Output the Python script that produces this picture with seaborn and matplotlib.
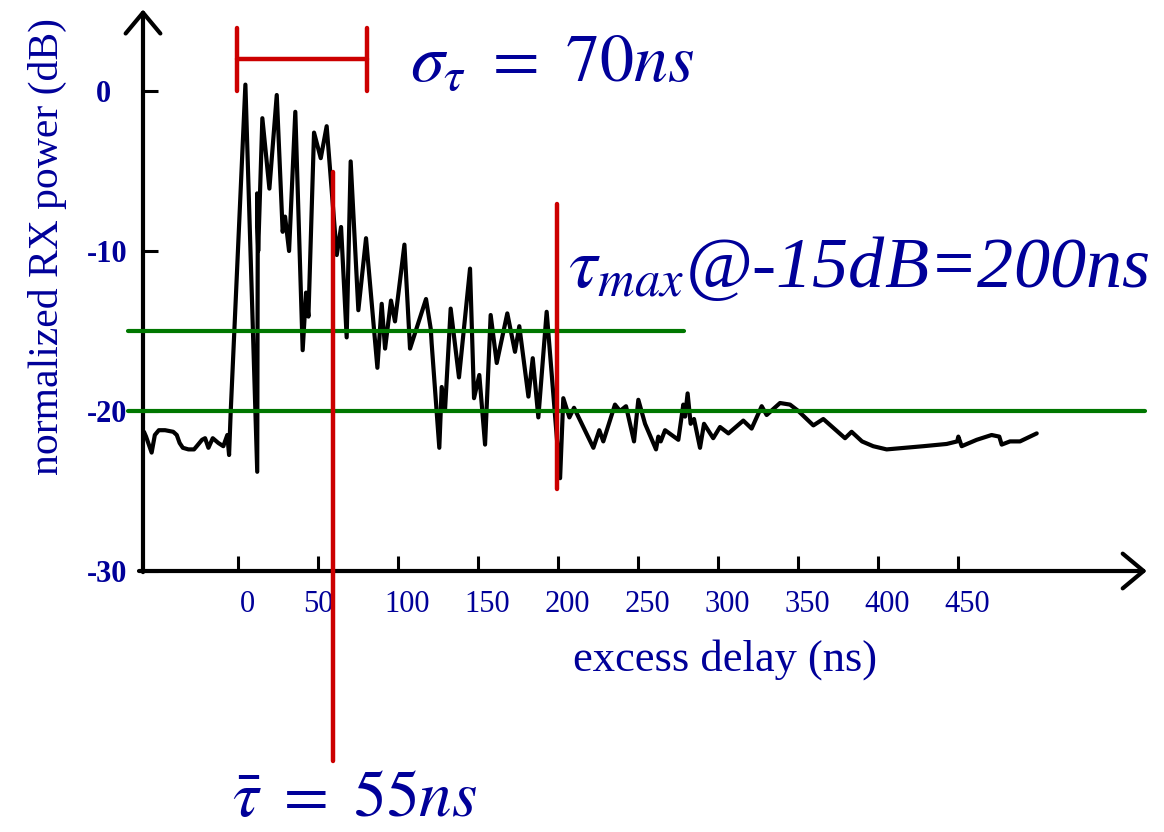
import matplotlib
matplotlib.use("Agg")
import matplotlib.pyplot as plt
import matplotlib.transforms as mtrans
import seaborn as sns

# power delay profile (ns, dB)
delay_ns = [
    -58.8, -57.5, -54.0, -52.0, -49.5, -45.6, -40.5, -38.3, -36.5, -34.5,
    -31.0, -27.5, -25.8, -22.5, -20.6, -18.5, -15.8, -12.3, -9.2, -6.7,
    -5.6, -4.6, 4.6, 12.0, 12.3, 11.9, 12.6, 15.2, 19.6, 24.2,
    27.9, 29.4, 31.9, 35.8, 40.4, 42.5, 44.0, 47.5, 51.7, 55.4,
    61.7, 64.4, 67.9, 70.4, 75.2, 80.0, 87.1, 89.8, 91.9, 95.6,
    98.1, 104.0, 107.5, 117.5, 120.5, 121.0, 125.8, 127.3, 129.4, 132.9,
    138.1, 145.0, 147.5, 150.8, 154.4, 157.9, 161.7, 168.3, 173.1, 175.8,
    181.5, 184.2, 187.7, 192.9, 201.3, 203.3, 207.1, 210.0, 222.1, 225.8,
    228.3, 235.6, 238.75, 242.5, 247.5, 250.2, 254.4, 261.25, 262.7, 264.2,
    266.9, 275.2, 278.3, 279.4, 281.0, 282.9, 285.0, 288.75, 291.25, 297.0,
    301.25, 306.5, 315.8, 321.0, 327.3, 330.4, 338.75, 345.0, 350.2, 359.6,
    365.8, 379.4, 383.5, 390.0, 397.0, 405.4, 428.3, 442.9, 449.5, 450.2,
    452.3, 461.7, 471.0, 475.8, 477.3, 482.5, 488.75, 499.2,
]
power_db = [
    -21.3, -21.6, -22.6, -21.5, -21.2, -21.2, -21.3, -21.5, -22.0, -22.3,
    -22.4, -22.4, -22.2, -21.8, -21.7, -22.3, -21.7, -22.0, -22.2, -21.5,
    -22.75, -20.1, 0.4, -23.8, -10.0, -6.4, -10.0, -1.7, -6.1, -0.25,
    -8.8, -7.85, -10.0, -1.3, -16.2, -12.6, -14.1, -2.6, -4.2, -2.2,
    -10.25, -8.5, -15.4, -4.4, -13.7, -9.2, -17.3, -13.3, -16.1, -13.1,
    -14.4, -9.6, -16.1, -13.0, -14.9, -15.75, -22.3, -18.5, -19.9, -13.6,
    -17.9, -11.1, -19.2, -17.75, -22.1, -14.0, -17.0, -13.9, -16.3, -14.7,
    -19.1, -16.7, -20.4, -13.8, -24.2, -19.2, -20.4, -19.8, -22.3, -21.2,
    -21.9, -19.6, -20.0, -19.7, -21.9, -19.3, -20.8, -22.4, -21.6, -21.9,
    -21.2, -21.8, -19.6, -20.35, -18.9, -20.8, -20.5, -22.3, -20.8, -21.7,
    -21.0, -21.4, -20.6, -21.1, -19.7, -20.25, -19.5, -19.6, -20.0, -20.9,
    -20.5, -21.7, -21.3, -21.9, -22.2, -22.4, -22.2, -22.06, -21.9, -21.6,
    -22.2, -21.8, -21.5, -21.6, -22.1, -21.9, -21.9, -21.4,
]

x_ticks = [0, 50, 100, 150, 200, 250, 300, 350, 400, 450]
y_ticks = [0, -10, -20, -30]

# thresholds (dB) and markers (ns)
thr_levels = [-15, -20]
thr_ends = [279, 567]
mean_delay = 59.4
max_delay = 199.4
rms_bar = [-0.6, 80.6]

NAVY = "#000099"
RED = "#cc0000"
GREEN = "#007700"

sns.set_theme(style="white")
plt.rcParams["font.family"] = ["Liberation Serif", "DejaVu Serif"]
plt.rcParams["mathtext.fontset"] = "stix"

fig = plt.figure(figsize=(11.64, 8.32), dpi=100)
ax = fig.add_axes([0.12285, 0.31370, 0.86237, 0.67500])

sns.lineplot(x=delay_ns, y=power_db, sort=False, estimator=None,
             color="black", lw=3.0, ax=ax, zorder=2,
             solid_joinstyle="round", solid_capstyle="round")

ax.set_xlim(-59.4, 568)
ax.set_ylim(-30, 5.1)
for s in ax.spines.values():
    s.set_visible(False)

# axes drawn as arrows
arrow = dict(arrowstyle="->,head_length=0.6,head_width=0.5", lw=3, color="black",
             shrinkA=0, shrinkB=0, mutation_scale=25)
ax.annotate("", xy=(1.0, 0), xytext=(-0.004, 0), xycoords="axes fraction",
            arrowprops=arrow, annotation_clip=False)
ax.annotate("", xy=(0, 1.0), xytext=(0, -0.002), xycoords="axes fraction",
            arrowprops=arrow, annotation_clip=False)

ax.set_xticks(x_ticks)
ax.set_yticks(y_ticks)
ax.set_xticklabels([str(v) for v in x_ticks])
ax.set_yticklabels([str(v) for v in y_ticks])
ax.tick_params(axis="both", direction="in", length=11, width=2.2, color="black",
               labelcolor=NAVY, labelsize=22, bottom=True, left=True)
ax.tick_params(axis="x", pad=14)
ax.tick_params(axis="y", pad=11)
for lbl in ax.get_yticklabels():
    lbl.set_fontweight("bold")

# small label nudges as in the original drawing
for lbl in ax.get_xticklabels():
    dx = 0 if lbl.get_text() == "50" else 6.5
    lbl.set_transform(lbl.get_transform() + mtrans.ScaledTranslation(dx / 72, 0, fig.dpi_scale_trans))
for lbl in ax.get_yticklabels():
    if lbl.get_text() == "0":
        lbl.set_transform(lbl.get_transform() + mtrans.ScaledTranslation(-12 / 72, 0, fig.dpi_scale_trans))

ax.set_xlabel("excess delay (ns)", fontsize=32, color=NAVY, va="center")
ax.xaxis.set_label_coords(0.580, -0.158)
ax.set_ylabel("normalized RX power (dB)", fontsize=30, color=NAVY, va="center")
ax.yaxis.set_label_coords(-0.0956, 0.577)

# threshold lines
for lev, end in zip(thr_levels, thr_ends):
    ax.plot([-69, end], [lev, lev], color=GREEN, lw=3, clip_on=False, zorder=3)

# mean delay, max delay, rms spread
ax.plot([mean_delay, mean_delay], [-5.06, -41.9], color=RED, lw=3.2, clip_on=False, zorder=4)
ax.plot([max_delay, max_delay], [-7.06, -24.9], color=RED, lw=3.2, clip_on=False, zorder=4)
ax.plot([rms_bar[0], rms_bar[0]], [0, 3.94], color=RED, lw=3.2, clip_on=False, zorder=4)
ax.plot([rms_bar[1], rms_bar[1]], [0, 3.94], color=RED, lw=3.2, clip_on=False, zorder=4)
ax.plot(rms_bar, [2.0, 2.0], color=RED, lw=3.2, clip_on=False, zorder=4)

ax.text(107.5, 0.56, r"$\sigma_\tau\ =\ 70ns$", fontsize=49, color=NAVY,
        ha="left", va="baseline")
ax.text(206, -12.25, r"$\tau_{max}$@-15dB=200ns", fontsize=52, color=NAVY,
        fontstyle="italic", ha="left", va="baseline")
ax.text(-3.75, -45.3, r"$\bar{\tau}\ =\ \mathit{55ns}$", fontsize=47, color=NAVY,
        ha="left", va="baseline", clip_on=False)

fig.savefig("out.png", dpi=100)
